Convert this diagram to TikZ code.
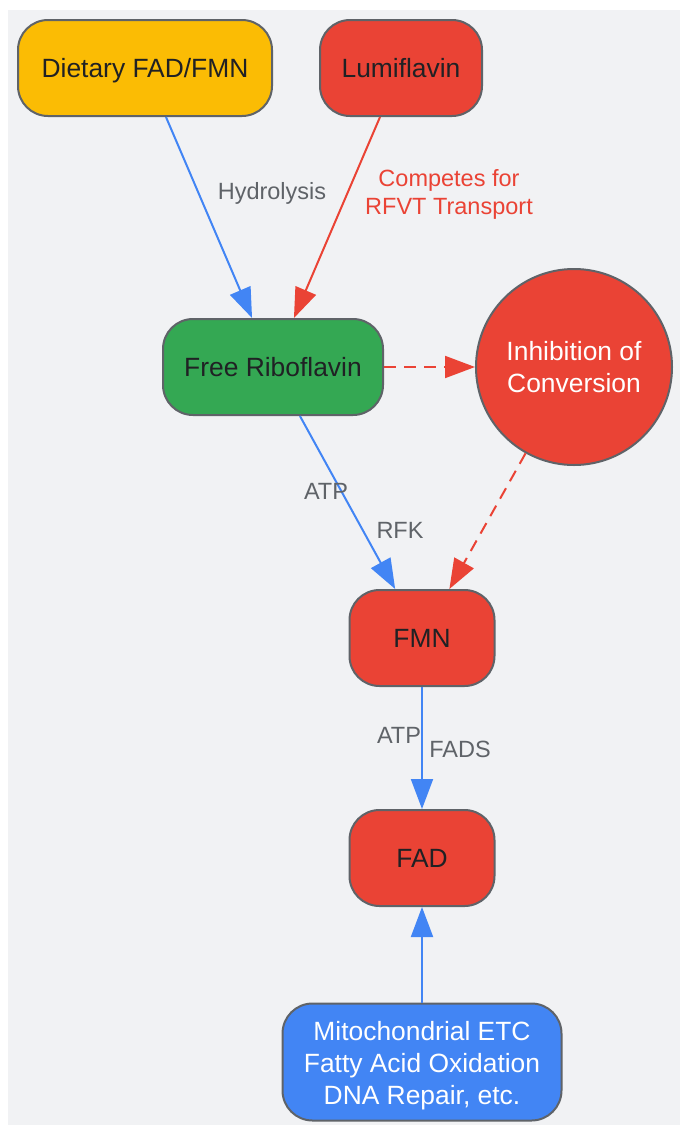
\documentclass[tikz,border=0pt]{standalone}
\usepackage{fontspec}
\setmainfont{Liberation Sans}
\usetikzlibrary{positioning, arrows.meta}

\definecolor{bggray}{HTML}{F1F2F4}
\definecolor{edgegray}{HTML}{5F6368}
\definecolor{darktext}{HTML}{202124}
\definecolor{gyellow}{HTML}{FBBC04}
\definecolor{gred}{HTML}{EA4335}
\definecolor{ggreen}{HTML}{34A853}
\definecolor{gblue}{HTML}{4285F4}

\begin{document}
\begin{tikzpicture}[x=1pt, y=-1pt, on grid, auto,
    box/.style={draw=edgegray, line width=2pt, rounded corners=30pt, minimum height=96pt,
      align=center, text=darktext, text height=19pt, text depth=0pt,
      font=\fontsize{26.4}{32}\selectfont},
    circ/.style={circle, draw=edgegray, line width=2pt, minimum size=196pt,
      align=center, text=white, font=\fontsize{26.4}{32}\selectfont},
    lbl/.style={text=edgegray, align=center, font=\fontsize{23.5}{28}\selectfont},
    flow/.style={-{Triangle[length=30pt, width=22pt]}, line width=2pt, color=gblue},
    block/.style={flow, color=gred, dash pattern=on 12pt off 8pt}]
    \fill[bggray] (8,10) rectangle (680,1125);
    \useasboundingbox (0,0) rectangle (680,1125);

    \node[box, fill=gyellow, minimum width=254pt] (diet) at (145,68) {Dietary FAD/FMN};
    \node[box, fill=gred, minimum width=162pt] (lumi) [right=256pt of diet] {Lumiflavin};
    \node[box, fill=ggreen, minimum width=220pt] (ribo) [below right=299pt and 128pt of diet] {Free Riboflavin};
    \node[circ, fill=gred] (inhib) [right=301pt of ribo] {Inhibition of\\Conversion};
    \node[box, fill=gred, minimum width=145pt] (fmn) [below right=271pt and 149pt of ribo] {FMN};
    \node[box, fill=gred, minimum width=145pt] (fad) [below=220pt of fmn] {FAD};
    \node[box, fill=gblue, text=white, minimum width=279pt, minimum height=117pt,
        text height=85pt] (mito) [below=204pt of fad]
        {Mitochondrial ETC\\Fatty Acid Oxidation\\DNA Repair, etc.};

        \path
        (diet)  edge [flow] (ribo)
        (lumi)  edge [flow, color=gred] (ribo)
        (ribo)  edge [block] (inhib)
                edge [flow] (fmn)
        (inhib) edge [block] (fmn)
        (fmn)   edge [flow] (fad)
        (mito)  edge [flow] (fad);

    % edge labels
    \node[lbl] (l_hydro) at (272,193) {Hydrolysis};
    \node[lbl, text=gred] (l_comp) at (449,194) {Competes for\\RFVT Transport};
    \node[lbl] (l_atp1) at (326,491) {ATP};
    \node[lbl] (l_rfk) at (400,530) {RFK};
    \node[lbl] (l_atp2) at (399,735) {ATP};
    \node[lbl] (l_fads) at (460,749) {FADS};

\end{tikzpicture}
\end{document}
